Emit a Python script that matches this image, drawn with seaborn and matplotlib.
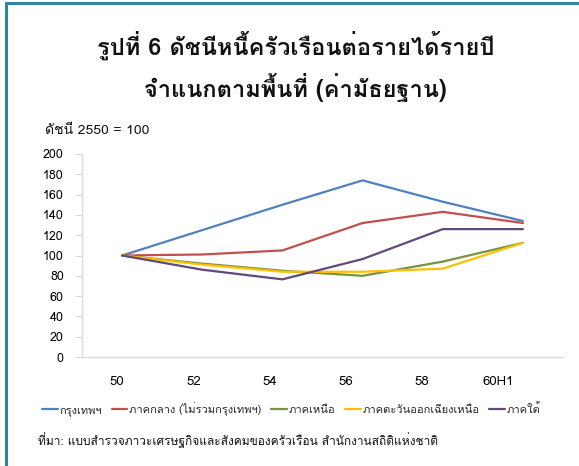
import matplotlib
matplotlib.use("Agg")
import matplotlib.pyplot as plt
from matplotlib import font_manager
from matplotlib.ft2font import FT2Font
from matplotlib.lines import Line2D
import seaborn as sns
import pandas as pd

# ---------------- data ----------------
years = ["50", "52", "54", "56", "58", "60H1"]
bangkok = [100, 125, 150, 174, 153, 134]
central = [100, 101, 105, 132, 143, 132]
north = [100, 92, 85, 80, 94, 112.5]
northeast = [100, 91, 84, 84, 87, 112.5]
south = [100, 86, 76.5, 96.5, 126, 126]
series_names = ["กรุงเทพฯ", "ภาคกลาง (ไม่รวมกรุงเทพฯ)", "ภาคเหนือ",
                "ภาคตะวันออกเฉียงเหนือ", "ภาคใต้"]
colors = ["#4F81BD", "#C0504D", "#77933C", "#FFC000", "#604A7B"]
yticks = [0, 20, 40, 60, 80, 100, 120, 140, 160, 180, 200]
title = "รูปที่ 6 ดัชนีหนี้ครัวเรือนต่อรายได้รายปี\nจำแนกตามพื้นที่ (ค่ามัธยฐาน)"
ylabel = "ดัชนี 2550 = 100"
source = "ที่มา: แบบสำรวจภาวะเศรษฐกิจและสังคมของครัวเรือน สำนักงานสถิติแห่งชาติ"

# ---------------- font with Thai glyphs ----------------
def thai_fonts():
    found = []
    for f in font_manager.fontManager.ttflist:
        try:
            cm = FT2Font(f.fname).get_charmap()
        except Exception:
            continue
        if ord("ก") in cm and ord("ี") in cm:
            if f.name not in found:
                found.append(f.name)
    return found

tf = thai_fonts()
pref = [n for n in tf if "CJK" not in n] + [n for n in tf if "CJK" in n]
family = pref[:1] + ["DejaVu Sans"]

sns.set_theme(style="white")
plt.rcParams["font.family"] = family

rows = []
for name, vals in zip(series_names, [bangkok, central, north, northeast, south]):
    for i, (yr, v) in enumerate(zip(years, vals)):
        rows.append({"idx": i, "year": yr, "value": v, "region": name})
df = pd.DataFrame(rows)

fig = plt.figure(figsize=(5.79, 4.66), dpi=100)
ax = fig.add_axes([82 / 579, 1 - 357 / 466, (563 - 82) / 579, (357 - 154) / 466])

sns.lineplot(data=df, x="idx", y="value", hue="region", hue_order=series_names,
             palette=colors, linewidth=1.6, ax=ax, legend=False, sort=False)

ax.set_xlim(-0.5, 5.5)
ax.set_ylim(0, 200)
ax.set_yticks(yticks)
ax.set_yticklabels([str(t) for t in yticks], fontsize=9, color="#000000")
lab_pos = [-0.06 + 0.95 * i for i in range(len(years))]
ax.set_xticks(lab_pos)
ax.set_xticklabels(years, fontsize=9.5, color="#000000")
ax.tick_params(axis="x", length=0, pad=14)
ax.tick_params(axis="y", length=5, width=0.8, color="#D9D9D9", left=True, pad=8)
ax.set_xlabel("")
ax.set_ylabel("")
for s in ["top", "right"]:
    ax.spines[s].set_visible(False)
for s in ["left", "bottom"]:
    ax.spines[s].set_color("#D9D9D9")
    ax.spines[s].set_linewidth(1.0)
ax.grid(False)

fig.text(0.51, 1 - 66 / 466, title, ha="center", va="center", fontsize=17,
         fontweight="bold", linespacing=1.55, color="#111111")
fig.text(45 / 579, 1 - 131 / 466, ylabel, ha="left", va="center", fontsize=10,
         color="#111111")
fig.text(38 / 579, 1 - 440 / 466, source, ha="left", va="center", fontsize=8.6,
         color="#111111")

handles = [Line2D([0], [0], color=c, lw=1.6) for c in colors]
fig.legend(handles, series_names, loc="center left", bbox_to_anchor=(42 / 579, 1 - 409 / 466),
           ncol=5, frameon=False, fontsize=8, handlelength=1.4, handletextpad=0.15,
           columnspacing=0.9, borderaxespad=0, borderpad=0)

# frame border (top and left)
fig.add_artist(Line2D([5.5 / 579, 5.5 / 579], [0, 1 - 3 / 466], color="#31849B", lw=2.2,
                      transform=fig.transFigure))
fig.add_artist(Line2D([5.5 / 579, 1], [1 - 3 / 466, 1 - 3 / 466], color="#31849B", lw=2.2,
                      transform=fig.transFigure))

fig.savefig("out.png", dpi=100)
